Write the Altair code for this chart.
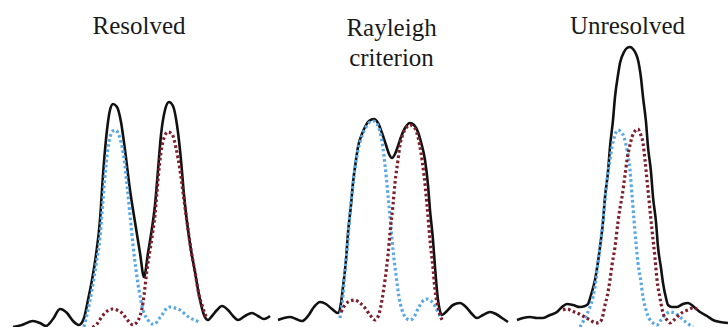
import altair as alt
import pandas as pd

# Readings. x: horizontal position, y: depth below the top
# edge (the y scale is reversed, so larger values sit lower).

# ---- Resolved ----
res_sum_x = [13, 22, 33, 40, 46, 53, 60, 67, 73, 79, 84, 88, 92, 96, 100, 103, 107, 110, 113, 117,
             121, 125, 130, 135, 140, 144, 148, 152, 155, 158, 161, 165, 169, 173, 177, 181, 184, 187,
             191, 195, 200, 204, 208, 212, 217, 222, 228, 233, 238, 245, 252, 258, 264, 270]
res_sum_y = [327, 325, 321, 323, 326, 319, 309, 313, 321, 325, 318, 300, 280, 255, 220, 175, 130, 110, 104, 107,
             122, 150, 190, 222, 253, 277, 253, 228, 205, 170, 135, 110, 102, 106, 125, 160, 195, 222,
             250, 272, 300, 315, 320, 316, 310, 306, 310, 316, 320, 316, 313, 316, 319, 316]
res_a_x = [84, 88, 92, 96, 100, 103, 106, 109, 112, 115, 118, 121, 124, 127, 130, 133, 136, 139, 143,
           148, 152, 155, 158, 162, 166, 170, 175, 180, 185, 190, 195, 199]
res_a_y = [327, 310, 290, 265, 237, 200, 165, 142, 132, 130, 133, 142, 158, 185, 215, 245, 270, 290, 310,
           320, 324, 324, 320, 315, 309, 307, 308, 310, 314, 318, 320, 322]
res_b_x = [88, 93, 97, 101, 105, 109, 113, 117, 122, 126, 130, 133, 137, 140, 143, 147, 150, 152, 155,
           158, 161, 164, 168, 172, 176, 180, 184, 187, 191, 195, 199, 202, 205, 207]
res_b_y = [330, 327, 324, 318, 313, 310, 309, 310, 313, 318, 323, 325, 322, 316, 303, 270, 250, 237, 215,
           180, 152, 138, 132, 134, 148, 170, 200, 222, 250, 272, 295, 305, 314, 319]

# ---- Rayleigh criterion ----
ray_sum_x = [278, 284, 290, 296, 302, 308, 314, 320, 326, 332, 338, 341, 343, 346, 348, 351, 353, 356, 358,
             362, 365, 369, 374, 378, 382, 386, 389, 392, 395, 398, 401, 405, 410, 414, 418, 421, 425, 428,
             430, 433, 435, 438, 442, 447, 453, 460, 466, 472, 477, 483, 490, 496, 502, 508]
ray_sum_y = [320, 318, 317, 319, 321, 316, 307, 302, 304, 309, 313, 303, 287, 260, 233, 205, 183, 160, 147,
             134, 127, 121, 119, 123, 133, 145, 154, 158, 154, 146, 137, 128, 123, 125, 132, 142, 160, 185,
             210, 240, 267, 300, 315, 311, 305, 303, 307, 314, 318, 315, 312, 314, 318, 322]
ray_a_x = [340, 343, 345, 348, 350, 353, 355, 358, 362, 366, 370, 373, 377, 380, 383, 385, 388, 391, 393,
           396, 399, 402, 406, 410, 414, 418, 422, 427, 431, 435, 438, 441]
ray_a_y = [318, 295, 270, 240, 212, 185, 168, 150, 136, 127, 122, 121, 124, 132, 148, 165, 195, 228, 250,
           275, 297, 310, 318, 320, 317, 309, 302, 299, 301, 306, 312, 318]
ray_b_x = [341, 345, 350, 355, 360, 365, 370, 375, 379, 382, 385, 388, 390, 393, 395, 398, 400, 403, 406,
           410, 414, 418, 421, 424, 427, 430, 433, 435, 438, 442]
ray_b_y = [312, 305, 301, 300, 303, 308, 315, 320, 314, 300, 280, 255, 233, 205, 183, 160, 145, 134, 128,
           125, 127, 137, 153, 175, 205, 240, 268, 290, 307, 320]

# ---- Unresolved ----
unr_sum_x = [517, 523, 530, 537, 543, 550, 557, 562, 567, 573, 580, 585, 588, 591, 595, 598, 600, 603, 605,
             608, 610, 613, 615, 618, 620, 624, 627, 630, 633, 636, 638, 641, 643, 646, 648, 651, 653, 656,
             658, 661, 663, 666, 668, 672, 677, 683, 688, 694, 700, 707, 713, 720, 728]
unr_sum_y = [320, 318, 317, 318, 318, 315, 312, 307, 304, 305, 307, 306, 304, 295, 280, 262, 247, 222, 197,
             172, 147, 120, 97, 75, 63, 52, 48, 47, 49, 54, 60, 78, 97, 122, 147, 172, 197, 222,
             247, 268, 283, 298, 305, 307, 307, 304, 303, 307, 312, 316, 320, 322, 323]
unr_a_x = [580, 585, 590, 593, 596, 598, 600, 603, 605, 607, 610, 612, 615, 618, 621, 624, 627, 630, 632,
           634, 636, 638, 641, 643, 646, 649, 653, 657, 661, 665, 670, 675, 680, 687, 693]
unr_a_y = [327, 318, 307, 297, 280, 262, 247, 220, 200, 180, 160, 147, 135, 130, 132, 137, 150, 170, 195,
           220, 243, 263, 282, 297, 310, 318, 323, 325, 320, 315, 312, 313, 317, 323, 327]
unr_b_x = [563, 567, 572, 577, 583, 590, 596, 600, 603, 605, 607, 610, 612, 615, 618, 620, 622, 625, 627,
           630, 632, 635, 638, 640, 643, 645, 647, 649, 652, 655, 657, 660, 663, 667, 670, 674, 678, 683,
           688, 693, 697]
unr_b_y = [310, 309, 311, 313, 316, 320, 323, 322, 315, 305, 297, 280, 265, 247, 222, 208, 197, 175, 160,
           145, 137, 131, 129, 133, 143, 160, 180, 200, 230, 258, 280, 298, 313, 320, 323, 320, 316, 312,
           310, 308, 309]

PANELS = [
    ("Resolved", [("sum", res_sum_x, res_sum_y), ("a", res_a_x, res_a_y), ("b", res_b_x, res_b_y)]),
    ("Rayleigh criterion", [("sum", ray_sum_x, ray_sum_y), ("a", ray_a_x, ray_a_y), ("b", ray_b_x, ray_b_y)]),
    ("Unresolved", [("sum", unr_sum_x, unr_sum_y), ("a", unr_a_x, unr_a_y), ("b", unr_b_x, unr_b_y)]),
]

rows = []
for name, series in PANELS:
    for s, xs, ys in series:
        for i, (xv, yv) in enumerate(zip(xs, ys)):
            rows.append({"panel": name, "s": s, "x": xv, "y": yv, "i": i})
df = pd.DataFrame(rows)

H = 327
layout = {
    "Resolved": dict(dom=[0, 274], title=["Resolved"], dx=2, offset=-59),
    "Rayleigh criterion": dict(dom=[274, 513], title=["Rayleigh", "criterion"], dx=-2, offset=-91),
    "Unresolved": dict(dom=[513, 728], title=["Unresolved"], dx=7, offset=-59),
}

BLUE = "#58a8e6"
RED = "#7d1f2d"
BLACK = "#111111"
SERIF = "Liberation Serif, Times New Roman, DejaVu Serif, serif"


def make_panel(name):
    cfg = layout[name]
    base = alt.Chart(df).transform_filter(alt.datum.panel == name).encode(
        x=alt.X("x:Q", scale=alt.Scale(domain=cfg["dom"], nice=False, zero=False), axis=None),
        y=alt.Y("y:Q", scale=alt.Scale(domain=[0, H], nice=False, zero=False, reverse=True), axis=None),
        order=alt.Order("i:Q"),
    )
    total = base.transform_filter(alt.datum.s == "sum").mark_line(
        color=BLACK, strokeWidth=2.6, interpolate="monotone", clip=True)
    a = base.transform_filter(alt.datum.s == "a").mark_line(
        color=BLUE, strokeWidth=3.2, strokeDash=[2.6, 2.6], interpolate="monotone", clip=True)
    b = base.transform_filter(alt.datum.s == "b").mark_line(
        color=RED, strokeWidth=3.2, strokeDash=[2.6, 2.6], interpolate="monotone", clip=True)
    w = cfg["dom"][1] - cfg["dom"][0]
    return alt.layer(total, a, b).properties(
        width=w, height=H,
        title=alt.TitleParams(
            text=cfg["title"], font=SERIF, fontSize=25, fontWeight="normal",
            color="#1a1a1a", anchor="middle", frame="group", offset=cfg["offset"],
            baseline="alphabetic", lineHeight=30, dx=cfg["dx"],
        ),
    )


chart = alt.hconcat(*[make_panel(n) for n, _ in PANELS], spacing=0).properties(
    padding=0, background="white"
).configure_view(stroke=None)

chart.save("out.html", embed_options={"renderer": "svg", "actions": False})
